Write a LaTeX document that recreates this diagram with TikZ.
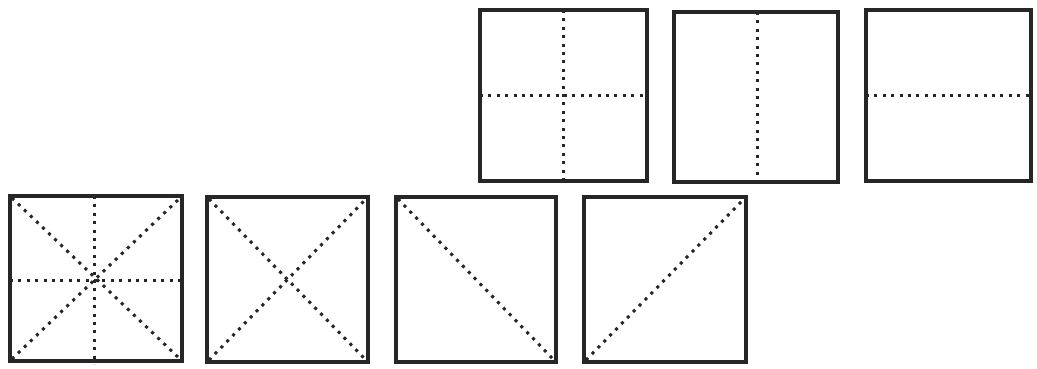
\documentclass[tikz,border=0pt]{standalone}
\begin{document}
\begin{tikzpicture}[x=1pt,y=-1pt,
  box/.style={draw=black!85,line width=3.4pt},
  fold/.style={draw=black!85,line width=3pt,dash pattern=on 3pt off 5.4pt}]
\fill[white] (0,0) rectangle (1037,369);
\useasboundingbox (0,0) rectangle (1037,369);
% top row
\draw[fold] (480,96) -- (647,96);
\draw[fold] (563,10) -- (563,184);
\draw[box] (480,10) rectangle (647,181);
\draw[fold] (757,12) -- (757,182);
\draw[box] (674,12) rectangle (838,182);
\draw[fold] (866,96) -- (1031,96);
\draw[box] (866,10) rectangle (1031,181);
% bottom row
\draw[fold] (10,280) -- (182,280);
\draw[fold] (94,196) -- (94,364);
\draw[fold] (12,198) -- (180,359);
\draw[fold] (12,359) -- (180,198);
\draw[box] (10,196) rectangle (182,361);
\draw[fold] (209,199) -- (366,360);
\draw[fold] (209,360) -- (366,199);
\draw[box] (207,197) rectangle (368,362);
\draw[fold] (398,199) -- (554,360);
\draw[box] (396,197) rectangle (556,362);
\draw[fold] (586,360) -- (744,199);
\draw[box] (584,197) rectangle (746,362);
\end{tikzpicture}
\end{document}
